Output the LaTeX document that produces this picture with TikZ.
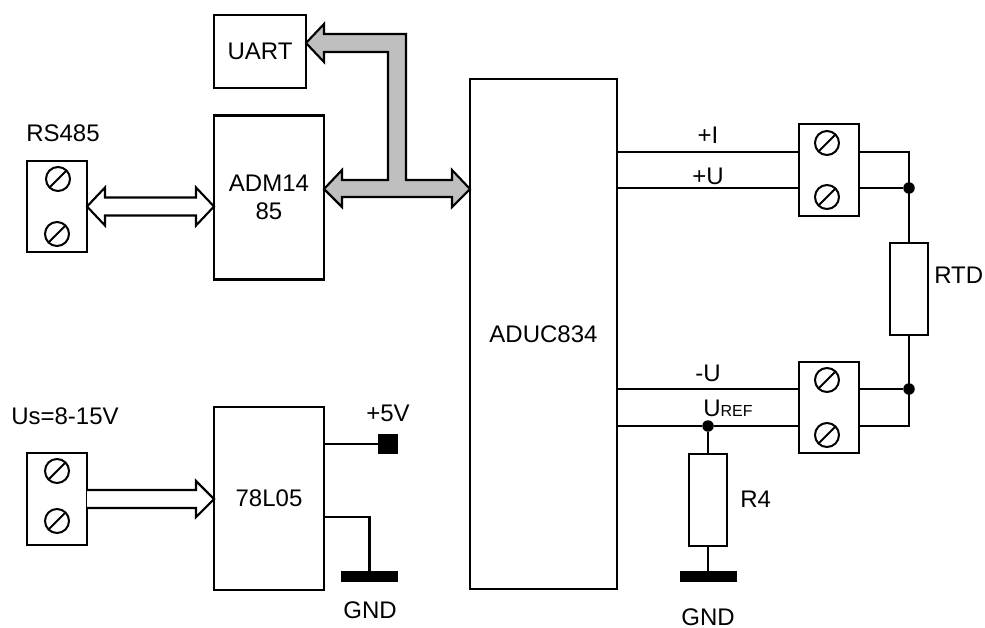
\documentclass[tikz,border=0pt]{standalone}
\usepackage{fontspec}
\setmainfont{Liberation Sans}
\usetikzlibrary{calc}
\def\px{*0.75pt}
\tikzset{
  x=0.75pt,y=-0.75pt,
  wire/.style={line width=1.6pt,line join=miter},
  boxn/.style={draw,line width=1.6pt,fill=white,inner sep=0pt,outer sep=0pt,align=center,font=\fontsize{18}{21.5}\selectfont},
  lbl/.style={inner sep=0pt,font=\fontsize{18}{21.5}\selectfont},
  screw/.style={circle,draw,line width=1.5pt,minimum size=24\px,inner sep=0pt,outer sep=0pt,
    path picture={\draw[line width=1.5pt] (path picture bounding box.south west)--(path picture bounding box.north east);}},
  dotn/.style={circle,fill=black,minimum size=11.5\px,inner sep=0pt,outer sep=0pt},
  barn/.style={fill=black,inner sep=0pt,outer sep=0pt},
  blockarrow/.style={draw,line width=1.6pt,line join=miter,miter limit=10},
}
\newcommand{\dblarrow}[3]{% from, to, fill
  \draw[blockarrow,fill=#3] let \p1=(#1),\p2=(#2) in
    (\x1,\y1) -- ++(18\px,19\px) -- ++(0,-10\px) -- (\x2-18\px,\y2+9\px) -- ++(0,10\px)
    -- (\x2,\y2) -- ++(-18\px,-19\px) -- ++(0,10\px) -- (\x1+18\px,\y1-9\px) -- ++(0,-10\px) -- cycle;}
\begin{document}
\begin{tikzpicture}
\useasboundingbox (0,0) rectangle (985,628);
% blocks
\node[boxn,minimum width=92\px,minimum height=73\px] (uart) at (260,51.5) {UART};
\node[boxn,minimum width=110\px,minimum height=164\px] (adm) at (269,197.5) {ADM14\\85};
\node[boxn,minimum width=110\px,minimum height=183\px] (reg) at (269,498.5) {78L05};
\node[boxn,minimum width=147\px,minimum height=510\px] (adu) at (543.5,334) {ADUC834};
% terminals
\node[boxn,minimum width=60\px,minimum height=91\px] (t1) at (57,206.5) {};
\node[screw] (s1a) at (58,179) {};
\node[screw] (s1b) at (57,234) {};
\node[boxn,minimum width=60\px,minimum height=92\px] (t2) at (57,499) {};
\node[screw] (s2a) at (57,471) {};
\node[screw] (s2b) at (57,521) {};
\node[boxn,minimum width=60\px,minimum height=92\px] (t3) at (829,170) {};
\node[screw] (s3a) at (827,143) {};
\node[screw] (s3b) at (827,197) {};
\node[boxn,minimum width=60\px,minimum height=91\px] (t4) at (829,407.5) {};
\node[screw] (s4a) at (827,380) {};
\node[screw] (s4b) at (827,435) {};
% resistors
\node[boxn,minimum width=38\px,minimum height=92\px] (rtd) at (909,289) {};
\node[boxn,minimum width=38\px,minimum height=92\px] (r4) at (708,500) {};
% junctions and rails
\node[dotn] (d1) at (909,188) {};
\node[dotn] (d2) at (909,389) {};
\node[dotn] (d3) at (708,426) {};
\node[barn,minimum width=20\px,minimum height=20\px] (p5) at (388,444) {};
\node[barn,minimum width=57\px,minimum height=11\px] (g1) at (369.5,576.5) {};
\node[barn,minimum width=57\px,minimum height=11\px] (g2) at (708,576.5) {};
% wires
\draw[wire] (adu.east |- 0,152) -- (t3.west |- 0,152);
\draw[wire] (adu.east |- 0,188) -- (t3.west |- 0,188);
\draw[wire] (adu.east |- 0,389) -- (t4.west |- 0,389);
\draw[wire] (adu.east |- 0,426) -- (d3) -- (t4.west |- 0,426);
\draw[wire] (t3.east |- 0,152) -| (d1.center) -- (d1 |- rtd.north);
\draw[wire] (t3.east |- 0,188) -- (d1);
\draw[wire] (d1 |- rtd.south) -- (d2.center) |- (t4.east |- 0,426);
\draw[wire] (t4.east |- 0,389) -- (d2);
\draw[wire] (d3) -- (r4.north);
\draw[wire] (r4.south) -- (g2.north);
\draw[wire] (reg.east |- p5) -- (p5);
\draw[wire] (reg.east |- 0,517) -| (g1.north);
% block arrows
\coordinate (a1) at (t1.east);
\coordinate (a2) at (adm.west |- t1.east);
\dblarrow{a1}{a2}{white}
\draw[blockarrow,fill=white] (t2.east |- 0,490) -- (196,490) -- ++(0,-9) -- (reg.west |- 0,499) -- (196,517) -- ++(0,-9) -- (t2.east |- 0,508);
\draw[blockarrow,fill=black!25] (adm.east |- 0,189) -- ++(18,-19) -- ++(0,10) -- (388,180) -- (388,52) -- (324,52) -- (324,62)
  -- (uart.east |- 0,43) -- (324,24) -- (324,34) -- (406,34) -- (406,180) -- (452,180) -- ++(0,-10)
  -- (adu.west |- 0,189) -- (452,207) -- ++(0,-10) -- (342,197) -- ++(0,10) -- cycle;
% labels
\node[lbl] (l1) at (63,133) {RS485};
\node[lbl] (l2) at (65,416) {Us=8-15V};
\node[lbl] (l3) at (388,413.5) {+5V};
\node[lbl] (l4) at (370,610) {GND};
\node[lbl] (l5) at (708,617.5) {GND};
\node[lbl] (l6) at (708,135) {+I};
\node[lbl] (l7) at (708,176.5) {+U};
\node[lbl] (l8) at (708,373) {-U};
\node[lbl,anchor=base west] (l9) at (703,416.5) {U{\fontsize{12}{14}\selectfont REF}};
\node[lbl,anchor=west] (l10) at (934,275) {RTD};
\node[lbl,anchor=west] (l11) at (740,499) {R4};
\end{tikzpicture}
\end{document}
